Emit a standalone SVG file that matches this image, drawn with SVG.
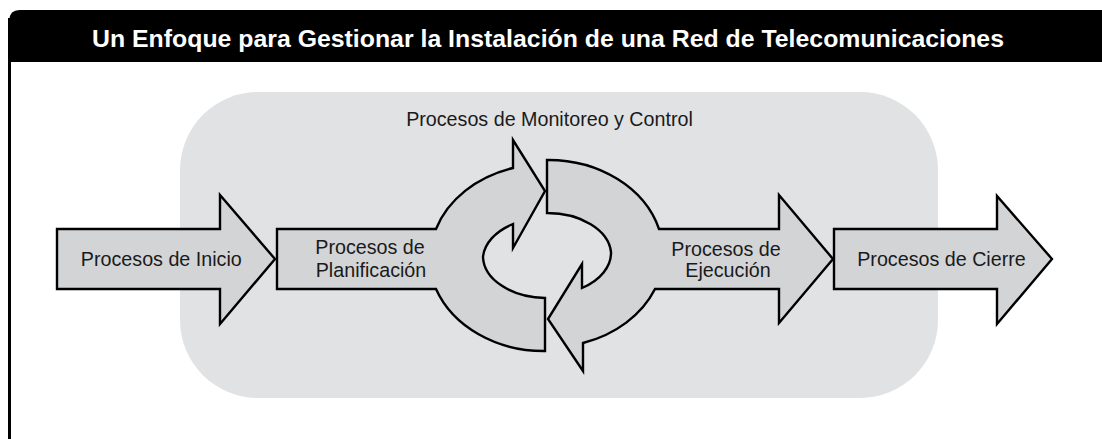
<svg xmlns="http://www.w3.org/2000/svg" width="1102" height="439" viewBox="0 0 1102 439">
  <style>
    .arrow { fill: #d3d4d6; stroke: #000; stroke-width: 2.4; stroke-linejoin: miter; stroke-miterlimit: 10; }
    .lbl { font-family: "Liberation Sans", Arial, sans-serif; font-size: 19.7px; fill: #1a1a1a; text-anchor: middle; }
    .title { font-family: "Liberation Sans", Arial, sans-serif; font-size: 24.5px; font-weight: bold; fill: #fff; text-anchor: middle; }
  </style>
  <rect x="0" y="0" width="1102" height="439" fill="#fff"/>
  <g id="frame">
    <path d="M 9.5,450 V 20 Q 9.5,10 19.5,10 H 1110 V 62 H 11 Z" fill="#000"/>
    <line x1="9.5" y1="18" x2="9.5" y2="439" stroke="#000" stroke-width="3"/>
    <text class="title" x="548" y="47" textLength="912" lengthAdjust="spacingAndGlyphs">Un Enfoque para Gestionar la Instalación de una Red de Telecomunicaciones</text>
  </g>
  <g id="monitoreo-control">
    <rect x="180" y="92" width="758" height="306" rx="78" ry="78" fill="#e1e2e4"/>
    <text class="lbl" x="549.5" y="126">Procesos de Monitoreo y Control</text>
  </g>
  <g id="connectors"></g>
  <g id="inicio">
    <path class="arrow" d="M 57,229 H 220 V 195 L 275,259 L 220,324 V 289 H 57 Z"/>
    <text class="lbl" x="161.3" y="266">Procesos de Inicio</text>
  </g>
  <g id="planificacion">
    <path class="arrow" d="M 277,229 H 436 A 115 95 0 0 1 513,168 V 140 L 545,191 L 513,248 V 224 A 64 42 0 0 0 483,257 A 64 42 0 0 0 545,298 V 351 A 115 95 0 0 1 436,289 H 277 Z"/>
    <text class="lbl" x="370" y="254">Procesos de</text>
    <text class="lbl" x="371" y="277">Planificación</text>
  </g>
  <g id="ejecucion">
    <path class="arrow" d="M 547,160 A 115 95 0 0 1 659,229 H 779 V 195 L 833,259 L 779,323 V 289 H 655 A 115 95 0 0 1 583,343 V 371 L 548,319 L 582,264 V 288 A 64 42 0 0 0 611,252 A 64 42 0 0 0 547,213 Z"/>
    <text class="lbl" x="726" y="256">Procesos de</text>
    <text class="lbl" x="728" y="277">Ejecución</text>
  </g>
  <g id="cierre">
    <path class="arrow" d="M 834,229 H 997 V 196 L 1052,259 L 997,324 V 289 H 834 Z"/>
    <text class="lbl" x="941.5" y="266">Procesos de Cierre</text>
  </g>
</svg>
